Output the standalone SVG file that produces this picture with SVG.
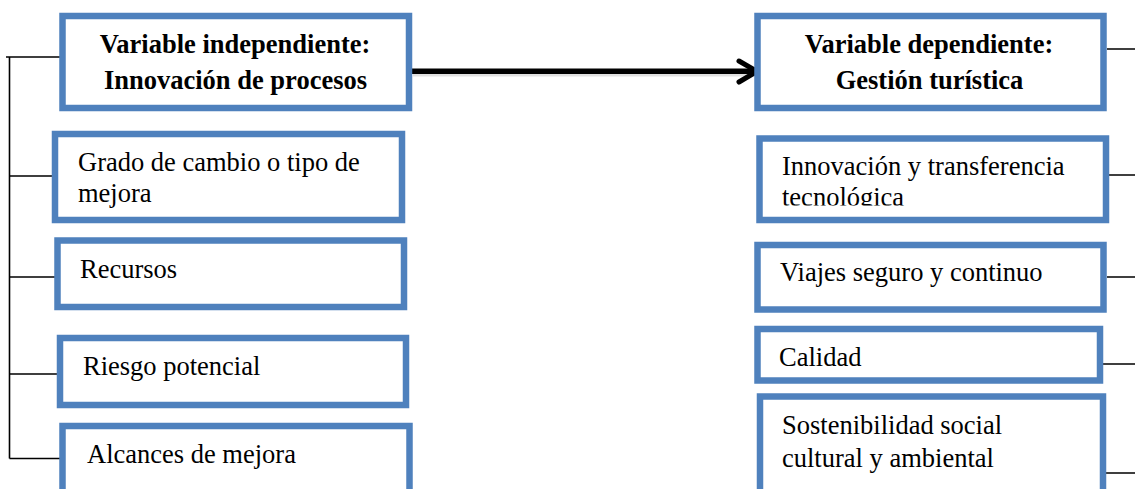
<svg xmlns="http://www.w3.org/2000/svg" width="1135" height="489" viewBox="0 0 1135 489">
<style>
.box{fill:#fff;stroke:#4F81BD;stroke-width:6.5}
.t{font-family:'Liberation Serif',Tinos,'DejaVu Serif',serif;font-size:26.5px;fill:#000}
.b{font-weight:bold;text-anchor:middle}
.ln{stroke:#000;stroke-width:1.6;fill:none}
</style>
<defs>
<clipPath id="clipTec"><rect x="760" y="140" width="345" height="65.5"/></clipPath>
</defs>
<rect width="1135" height="489" fill="#fff"/>
<g id="connectors">
<path class="ln" d="M9.5 57 V458.5 M6 57 H60 M9.5 176 H56 M9.5 277 H58 M9.5 374 H60 M9.5 458.5 H60"/>
<path class="ln" d="M1107 49 H1135 M1109 175 H1135 M1107 277 H1135 M1098 364 H1135 M1102 473 H1135"/>
<line x1="413" y1="74" x2="755" y2="74" stroke="#000" stroke-opacity="0.12" stroke-width="5"/>
<line x1="412" y1="71.3" x2="755" y2="71.3" stroke="#000" stroke-width="5.5"/>
<polyline points="739,61 757,71.3 739,82" fill="none" stroke="#000" stroke-width="5" stroke-linecap="round" stroke-linejoin="round"/>
</g>
<g id="n-indep">
<rect class="box" x="62.5" y="16" width="346.5" height="92"/>
<text class="t b" x="235" y="53">Variable independiente:</text>
<text class="t b" x="235.5" y="89">Innovación de procesos</text>
</g>
<g id="n-grado">
<rect class="box" x="55" y="134" width="347" height="86"/>
<text class="t" x="78" y="170.5">Grado de cambio o tipo de</text>
<text class="t" x="78" y="201.5">mejora</text>
</g>
<g id="n-recursos">
<rect class="box" x="57.5" y="240.5" width="346.5" height="66.5"/>
<text class="t" x="80" y="278">Recursos</text>
</g>
<g id="n-riesgo">
<rect class="box" x="60" y="338" width="346" height="67"/>
<text class="t" x="83" y="375">Riesgo potencial</text>
</g>
<g id="n-alcances">
<rect class="box" x="62.5" y="426" width="347" height="80"/>
<text class="t" x="87" y="463">Alcances de mejora</text>
</g>
<g id="n-dep">
<rect class="box" x="757.5" y="16" width="346" height="92"/>
<text class="t b" x="929" y="53">Variable dependiente:</text>
<text class="t b" x="929.5" y="89">Gestión turística</text>
</g>
<g id="n-innov">
<rect class="box" x="759.5" y="138.5" width="346.5" height="81.5"/>
<g clip-path="url(#clipTec)">
<text class="t" x="782" y="174.5">Innovación y transferencia</text>
<text class="t" x="782" y="205.5">tecnológica</text>
</g>
</g>
<g id="n-viajes">
<rect class="box" x="757.5" y="245" width="346" height="64.5"/>
<text class="t" x="780" y="281">Viajes seguro y continuo</text>
</g>
<g id="n-calidad">
<rect class="box" x="757.5" y="329" width="342.5" height="51.5"/>
<text class="t" x="779" y="366">Calidad</text>
</g>
<g id="n-sosten">
<rect class="box" x="760" y="396.5" width="343" height="100"/>
<text class="t" x="782" y="434">Sostenibilidad social</text>
<text class="t" x="782" y="467">cultural y ambiental</text>
</g>
</svg>
